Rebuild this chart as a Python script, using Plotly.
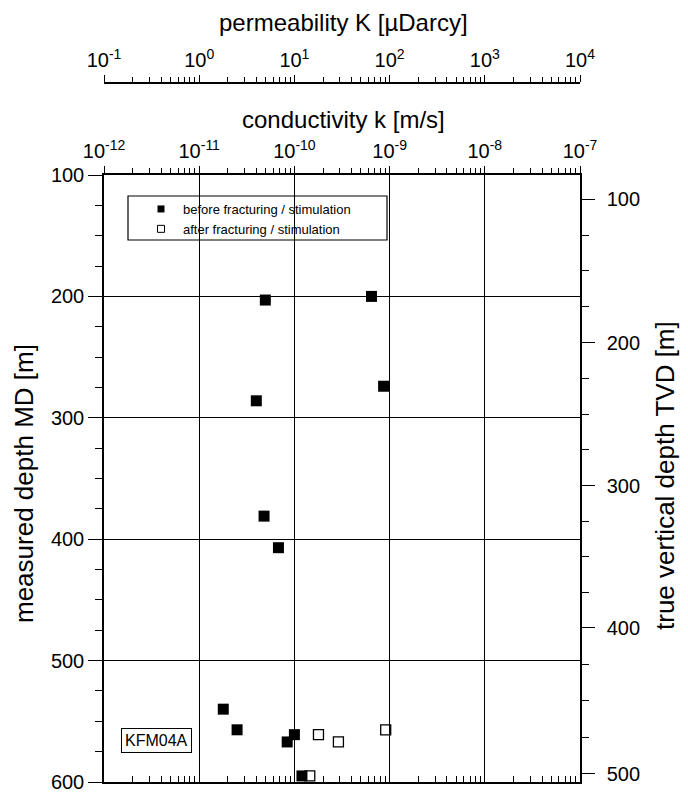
import numpy as np
import plotly.graph_objects as go

# Hydraulic conductivity k [m/s] versus measured depth MD [m], borehole KFM04A
before_k = [4.95e-11, 6.45e-10, 8.65e-10, 3.98e-11, 4.8e-11, 6.8e-11,
            1.79e-11, 2.5e-11, 8.4e-11, 1.0e-10, 1.2e-10]
before_md = [203, 200, 274, 286, 381, 407, 540, 557, 567, 561, 595]
after_k = [1.45e-10, 1.79e-10, 2.9e-10, 9.1e-10]
after_md = [595, 561, 567, 557]

# True vertical depth ticks and the measured depths where they fall
tvd_major = [100, 200, 300, 400, 500]
md_at_tvd = [120, 238, 356, 473, 593]
tvd_minor = [t for t in range(125, 500, 25) if t % 100]
md_minor = list(np.interp(tvd_minor, tvd_major, md_at_tvd))

cond_ticks = [1e-12, 1e-11, 1e-10, 1e-9, 1e-8, 1e-7]
cond_labels = ["10<sup>-12</sup>", "10<sup>-11</sup>", "10<sup>-10</sup>",
               "10<sup>-9</sup>", "10<sup>-8</sup>", "10<sup>-7</sup>"]
perm_ticks = [1e-1, 1e0, 1e1, 1e2, 1e3, 1e4]
perm_labels = ["10<sup>-1</sup>", "10<sup>0</sup>", "10<sup>1</sup>",
               "10<sup>2</sup>", "10<sup>3</sup>", "10<sup>4</sup>"]
md_ticks = [100, 200, 300, 400, 500, 600]

FONT = "Liberation Sans, Arial, sans-serif"
W, H = 688, 795
ML, MR, MT, MB = 104, 108, 83, 13
plot_w = W - ML - MR
plot_h = H - MT - MB
y_top_px = 175
ydom_top = (H - MB - y_top_px) / plot_h


def px_x(x):
    return (x - ML) / plot_w


def px_y(y):
    return (H - MB - y) / plot_h


def minor_log(decades):
    return [m * d for d in decades[:-1] for m in range(2, 10)]


fig = go.Figure()

fig.add_trace(go.Scatter(
    x=before_k, y=before_md, mode="markers", showlegend=False,
    marker=dict(symbol="square", size=11, color="black", line=dict(width=0)),
    xaxis="x", yaxis="y"))
fig.add_trace(go.Scatter(
    x=after_k, y=after_md, mode="markers", showlegend=False,
    marker=dict(symbol="square-open", size=10, color="black", line=dict(width=1.3)),
    xaxis="x", yaxis="y"))

# legend entries with smaller symbols
fig.add_trace(go.Scatter(
    x=[None], y=[None], mode="markers", name="before fracturing / stimulation",
    marker=dict(symbol="square", size=7, color="black", line=dict(width=0))))
fig.add_trace(go.Scatter(
    x=[None], y=[None], mode="markers", name="after fracturing / stimulation",
    marker=dict(symbol="square-open", size=7, color="black", line=dict(width=1))))

# empty traces so the extra axes get drawn
fig.add_trace(go.Scatter(x=[], y=[], xaxis="x2", yaxis="y", showlegend=False, hoverinfo="skip"))
fig.add_trace(go.Scatter(x=[], y=[], xaxis="x3", yaxis="y", showlegend=False, hoverinfo="skip"))
fig.add_trace(go.Scatter(x=[], y=[], xaxis="x", yaxis="y2", showlegend=False, hoverinfo="skip"))

tickfont = dict(family=FONT, size=20, color="black")
line_kw = dict(showline=True, linecolor="black", linewidth=1.5, zeroline=False,
               automargin=False)

fig.update_layout(
    width=W, height=H,
    margin=dict(l=ML, r=MR, t=MT, b=MB, pad=0, autoexpand=False),
    paper_bgcolor="white", plot_bgcolor="white",
    font=dict(family=FONT, color="black"),
    showlegend=True,
    legend=dict(x=px_x(139), y=px_y(194), xanchor="left", yanchor="top",
                bgcolor="rgba(0,0,0,0)", borderwidth=0,
                font=dict(family=FONT, size=13, color="black"),
                itemsizing="trace", itemwidth=34, tracegroupgap=0),
    xaxis=dict(type="log", range=[-12, -7], domain=[0, 1], anchor="y",
               showticklabels=False, ticks="", showgrid=True, gridcolor="black",
               gridwidth=1, tickvals=cond_ticks,
               minor=dict(ticks="inside", ticklen=6, tickcolor="black", tickwidth=1,
                          tickvals=minor_log(cond_ticks), showgrid=False),
               **line_kw),
    xaxis2=dict(type="log", range=[-12, -7], overlaying="x", side="top", anchor="y",
                tickvals=cond_ticks, ticktext=cond_labels, tickfont=tickfont,
                ticks="outside", ticklen=7, tickcolor="black", tickwidth=1,
                showgrid=False,
                minor=dict(ticks="outside", ticklen=5, tickcolor="black", tickwidth=1,
                           tickvals=minor_log(cond_ticks)),
                **line_kw),
    xaxis3=dict(type="log", range=[-1, 4], overlaying="x", side="top", anchor="free",
                position=1, tickvals=perm_ticks, ticktext=perm_labels, tickfont=tickfont,
                ticks="outside", ticklen=7, tickcolor="black", tickwidth=1,
                showgrid=False,
                minor=dict(ticks="outside", ticklen=5, tickcolor="black", tickwidth=1,
                           tickvals=minor_log(perm_ticks)),
                **line_kw),
    yaxis=dict(range=[600, 100], domain=[0, ydom_top], anchor="x",
               tickvals=md_ticks, tickfont=tickfont,
               ticks="outside", ticklen=14, tickcolor="black", tickwidth=1,
               showgrid=True, gridcolor="black", gridwidth=1,
               minor=dict(ticks="outside", ticklen=7, tickcolor="black", tickwidth=1,
                          dtick=25, tick0=0, showgrid=False),
               **line_kw),
    yaxis2=dict(range=[600, 100], overlaying="y", side="right", anchor="x",
                tickvals=md_at_tvd, ticktext=[str(t) for t in tvd_major], tickfont=tickfont,
                ticks="outside", ticklen=13, tickcolor="black", tickwidth=1,
                ticklabelstandoff=8, showgrid=False,
                minor=dict(ticks="outside", ticklen=7, tickcolor="black", tickwidth=1,
                           tickvals=md_minor, showgrid=False),
                **line_kw),
)

# legend frame
fig.add_shape(type="rect", xref="paper", yref="paper",
              x0=px_x(128), x1=px_x(387), y0=px_y(240), y1=px_y(196),
              line=dict(color="black", width=1.2), fillcolor="rgba(0,0,0,0)")

x_center = px_x(343)
fig.add_annotation(text="permeability K [µDarcy]", xref="paper", yref="paper",
                   x=x_center, y=px_y(22), xanchor="center", yanchor="middle",
                   showarrow=False, font=dict(family=FONT, size=24, color="black"))
fig.add_annotation(text="conductivity k [m/s]", xref="paper", yref="paper",
                   x=x_center, y=px_y(119), xanchor="center", yanchor="middle",
                   showarrow=False, font=dict(family=FONT, size=24, color="black"))
fig.add_annotation(text="measured depth MD [m]", xref="paper", yref="paper",
                   x=px_x(24), y=px_y(484), xanchor="center", yanchor="middle",
                   textangle=-90, showarrow=False,
                   font=dict(family=FONT, size=26, color="black"))
fig.add_annotation(text="true vertical depth TVD [m]", xref="paper", yref="paper",
                   x=px_x(665), y=px_y(476), xanchor="center", yanchor="middle",
                   textangle=-90, showarrow=False,
                   font=dict(family=FONT, size=26, color="black"))
fig.add_annotation(text="KFM04A", xref="paper", yref="paper",
                   x=px_x(156), y=px_y(740), xanchor="center", yanchor="middle",
                   showarrow=False, bgcolor="white", bordercolor="black",
                   borderwidth=1, borderpad=3,
                   font=dict(family=FONT, size=16, color="black"))

fig.write_html("out.html")
